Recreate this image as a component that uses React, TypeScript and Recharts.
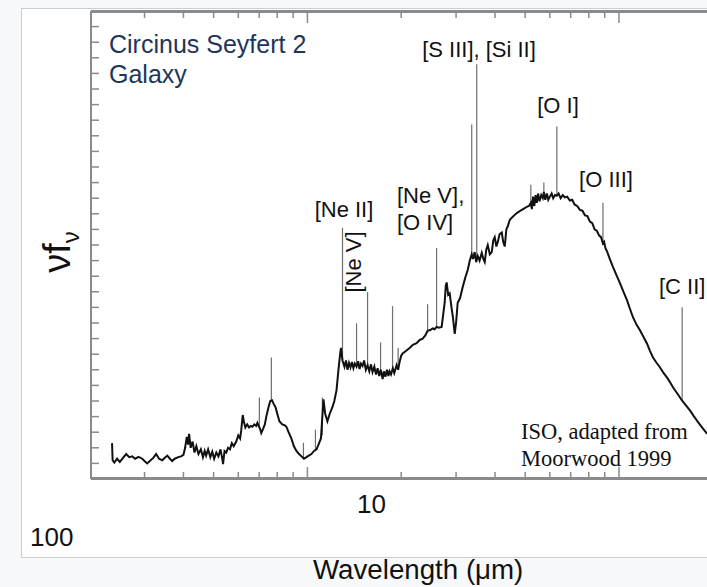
import { LineChart, Line, XAxis, YAxis, ReferenceLine } from 'recharts';

// ISO spectrum of the Circinus galaxy (arbitrary flux units)
const WAVE = [
  2.36, 2.37, 2.4, 2.45, 2.5, 2.56, 2.62, 2.68, 2.74, 2.8, 2.87, 2.95, 3.0, 3.06, 3.12, 3.2, 3.27, 3.34,
  3.42, 3.48, 3.55, 3.62, 3.68, 3.75, 3.85, 3.93, 4.0, 4.05, 4.1, 4.14, 4.17, 4.22, 4.28, 4.34, 4.4,
  4.47, 4.55, 4.62, 4.68, 4.73, 4.8, 4.88, 4.95, 5.02, 5.1, 5.18, 5.26, 5.34, 5.36, 5.42, 5.49, 5.56,
  5.64, 5.72, 5.8, 5.91, 6.0, 6.08, 6.13, 6.2, 6.25, 6.32, 6.41, 6.5, 6.58, 6.66, 6.75, 6.85, 6.91,
  7.05, 7.11, 7.2, 7.3, 7.38, 7.5, 7.6, 7.7, 7.8, 7.9, 8.0, 8.13, 8.3, 8.45, 8.56, 8.7, 8.88, 9.05,
  9.22, 9.4, 9.57, 9.75, 9.93, 10.1, 10.3, 10.5, 10.7, 10.9, 11.05, 11.26, 11.4, 11.59, 11.8, 12.03,
  12.2, 12.4, 12.55, 12.67, 12.77, 12.82, 12.96, 13.15, 13.3, 13.45, 13.6, 13.75, 13.9, 14.05, 14.2,
  14.38, 14.55, 14.7, 14.85, 15.03, 15.2, 15.4, 15.6, 15.8, 16.0, 16.18, 16.4, 16.6, 16.8, 17.0, 17.2,
  17.43, 17.6, 17.8, 18.0, 18.2, 18.35, 18.55, 18.8, 19.0, 19.33, 19.55, 19.76, 20.0, 20.21, 20.7,
  21.28, 21.8, 22.41, 22.9, 23.43, 23.9, 24.31, 24.8, 25.23, 25.6, 25.98, 26.4, 26.97, 27.3, 27.58,
  27.8, 27.99, 28.3, 28.62, 29.0, 29.3, 29.7, 30.0, 30.36, 30.9, 31.51, 32.1, 32.7, 33.2, 33.68, 34.0,
  34.43, 34.8, 35.21, 35.7, 36.27, 36.7, 37.08, 37.5, 37.92, 38.5, 39.05, 39.5, 39.93, 40.4, 40.83,
  41.4, 42.06, 42.5, 42.99, 43.5, 43.97, 44.6, 45.29, 46.1, 46.99, 47.9, 48.77, 49.7, 50.61, 51.4,
  52.13, 52.52, 53.0, 53.5, 54.0, 54.5, 55.0, 55.6, 56.3, 56.97, 57.4, 58.0, 58.7, 59.3, 60.01, 60.8,
  61.5, 62.3, 63.18, 64.0, 65.0, 66.0, 67.05, 68.2, 69.56, 70.8, 72.0, 73.4, 74.93, 76.3, 77.8, 79.2,
  80.68, 82.1, 83.5, 84.98, 86.4, 87.6, 88.84, 89.6, 90.5, 91.5, 93.5, 95.65, 98.0, 100.74, 103.4,
  106.1, 108.5, 110.9, 113.8, 116.8, 119.9, 123.0, 125.8, 128.6, 132.0, 135.5, 139.0, 142.7, 145.9,
  149.2, 154.3, 159.5, 164.3, 169.2, 173.6, 178.2, 185.0, 191.9,
];

const FLUX = [
  2.3, 1.2, 1.05, 1.3, 1.1, 1.35, 1.6, 1.4, 1.45, 1.3, 1.42, 1.3, 1.15, 1.0, 1.15, 1.35, 1.6, 1.3,
  1.2, 1.35, 1.5, 1.3, 1.15, 1.3, 1.4, 1.45, 1.55, 2.0, 2.7, 2.2, 2.9, 2.0, 2.4, 1.7, 2.1,
  1.6, 1.9, 1.4, 1.8, 1.5, 1.9, 1.4, 1.75, 1.3, 1.7, 1.45, 1.9, 1.2, 0.95, 1.8, 1.7, 2.0,
  1.9, 2.3, 2.1, 2.4, 2.8, 2.6, 3.1, 4.1, 3.7, 3.3, 3.5, 3.3, 3.4, 3.35, 3.5, 3.4, 3.6,
  3.2, 2.95, 3.2, 3.5, 4.0, 4.6, 5.0, 5.05, 4.8, 4.6, 4.2, 3.7, 3.5, 3.45, 3.35, 3.0, 2.6, 2.1,
  1.8, 1.6, 1.45, 1.3, 1.4, 1.5, 1.6, 1.8, 1.9, 2.3, 2.6, 5.1, 4.2, 3.7, 4.2, 4.6,
  5.0, 5.7, 6.8, 7.6, 8.2, 8.4, 7.6, 7.2, 7.6, 7.0, 7.45, 7.15, 7.5, 7.1, 7.4,
  7.2, 7.55, 7.05, 7.4, 7.25, 7.6, 7.0, 7.3, 6.9, 7.35, 6.85, 7.2, 6.7, 7.1, 6.6, 7.0,
  6.4, 6.9, 6.55, 7.0, 6.6, 6.9, 6.7, 7.1, 6.8, 7.3, 7.0, 7.5, 7.9, 8.05, 8.2,
  8.4, 8.6, 8.7, 8.9, 9.0, 9.2, 9.5, 9.55, 9.65, 9.6, 9.75, 9.7, 9.75, 10.6, 11.3,
  12.4, 12.6, 11.8, 11.9, 11.0, 10.4, 9.3, 10.0, 11.3, 11.6, 12.3, 12.9, 13.4, 14.0, 14.4, 14.1,
  14.55, 13.9, 14.3, 14.0, 14.5, 14.1, 13.9, 14.7, 15.0, 14.4, 14.55, 15.3, 15.5, 14.9, 15.2,
  15.7, 15.8, 15.2, 14.9, 16.0, 16.2, 16.6, 16.75, 16.9, 17.05, 17.15, 17.25, 17.35, 17.45, 17.5,
  17.7, 17.3, 18.1, 17.5, 18.2, 17.7, 18.3, 17.8, 18.2, 18.0, 18.4, 17.9, 18.3, 17.9, 18.1, 18.3,
  18.0, 18.2, 18.15, 18.3, 18.0, 18.2, 18.05, 18.1, 17.85, 17.9, 17.6, 17.5, 17.25, 17.2, 16.9, 16.85,
  16.5, 16.4, 16.0, 15.9, 15.6, 15.5, 15.1, 15.2, 14.8, 14.6, 14.1, 13.6, 13.1, 12.56, 12.0,
  11.46, 10.9, 10.37, 9.9, 9.53, 9.1, 8.69, 8.2, 7.79, 7.45, 7.15, 6.8, 6.5, 6.2,
  5.86, 5.45, 5.02, 4.7, 4.38, 4.05, 3.73, 3.3, 2.9,
];

// narrow emission lines: wavelength, continuum under the line, top of the line
const LINE_WAVE = [7.01, 7.66, 9.71, 10.61, 11.17, 12.96, 14.38, 15.6, 17.17, 18.76, 19.55, 24.31, 25.98, 33.68, 34.95, 52.13, 57.4, 63.18, 88.84, 159.5];
const LINE_BASE = [3.3, 5.0, 1.4, 1.85, 2.8, 7.6, 7.2, 7.3, 6.9, 7.0, 7.0, 9.5, 9.75, 14.4, 14.0, 17.7, 18.4, 18.15, 15.1, 5.02];
const LINE_PEAK = [5.22, 7.79, 2.32, 3.16, 5.22, 16.1, 9.98, 11.98, 8.76, 11.08, 8.4, 11.2, 14.81, 22.73, 26.59, 18.87, 19.0, 22.6, 17.71, 11.01];

const MINOR_TICKS = [3, 4, 5, 6, 7, 8, 9, 20, 30, 40, 50, 60, 70, 80, 90, 200];
const MAJOR_TICKS = [10, 100];
const Y_TICKS = Array.from({ length: 29 }, (_, i) => i + 1);

const data = WAVE.map((w, i) => ({ w, f: FLUX[i] }));

const W = 760;
const H = 587;
const X_DOMAIN: [number, number] = [2.02, 211];
const AXIS = '#8a8a8a';
const SANS = '"Liberation Sans", Arial, sans-serif';
const SERIF = '"Liberation Serif", "Times New Roman", serif';

// tick marks only, no tick labels
const NoLabel = () => <g />;

// axes get 1px of room (recharts skips 0-sized axes), ticks mirrored inward
function xAxis(id: string, orientation: 'top' | 'bottom', ticks: number[], size: number) {
  return (
    <XAxis
      key={id}
      xAxisId={id}
      dataKey="w"
      type="number"
      scale="log"
      domain={X_DOMAIN}
      allowDataOverflow
      orientation={orientation}
      ticks={ticks}
      interval={0}
      tick={NoLabel}
      mirror
      height={1}
      tickSize={size}
      axisLine={{ stroke: AXIS, strokeWidth: 2 }}
      tickLine={{ stroke: AXIS, strokeWidth: 1.5 }}
    />
  );
}

export default function App() {
  return (
    <div
      style={{
        position: 'fixed',
        left: 0,
        top: 0,
        width: 707,
        height: 587,
        overflow: 'hidden',
        background: '#f7f8fa',
      }}
    >
      <div
        style={{
          position: 'absolute',
          left: 21,
          top: 8,
          width: 760,
          height: 548,
          background: '#fff',
          border: '1px solid #cdcdcd',
        }}
      />
      <div style={{ position: 'absolute', left: 0, top: 0 }}>
        <LineChart width={W} height={H} data={data} margin={{ top: 11, right: 40, bottom: 108, left: 91 }}>
          {xAxis('b', 'bottom', MINOR_TICKS, 7)}
          {xAxis('t', 'top', MINOR_TICKS, 7)}
          {xAxis('bm', 'bottom', MAJOR_TICKS, 11)}
          {xAxis('tm', 'top', MAJOR_TICKS, 11)}
          <YAxis
            type="number"
            domain={[0, 30]}
            ticks={Y_TICKS}
            interval={0}
            tick={NoLabel}
            mirror
            width={1}
            tickSize={8}
            axisLine={{ stroke: AXIS, strokeWidth: 2 }}
            tickLine={{ stroke: AXIS, strokeWidth: 1.5 }}
          />
          {LINE_WAVE.map((w, i) => (
            <ReferenceLine
              key={w}
              xAxisId="b"
              segment={[
                { x: w, y: LINE_BASE[i] },
                { x: w, y: LINE_PEAK[i] },
              ]}
              stroke="#6e6e6e"
              strokeWidth={1.2}
            />
          ))}
          <Line
            xAxisId="b"
            type="linear"
            dataKey="f"
            stroke="#111"
            strokeWidth={2}
            dot={false}
            isAnimationActive={false}
          />
        </LineChart>
      </div>
      <svg style={{ position: 'absolute', left: 0, top: 0 }} width={707} height={587}>
        <g fontFamily={SANS} fill="#1d3659" fontSize={25}>
          <text x={109} y={53}>Circinus Seyfert 2</text>
          <text x={109} y={83}>Galaxy</text>
        </g>
        <g fontFamily={SANS} fill="#111" fontSize={22}>
          <text x={479} y={57} textAnchor="middle">[S III], [Si II]</text>
          <text x={558} y={113} textAnchor="middle">[O I]</text>
          <text x={606} y={187} textAnchor="middle">[O III]</text>
          <text x={397} y={203}>[Ne V],</text>
          <text x={397} y={230}>[O IV]</text>
          <text x={344} y={217} textAnchor="middle">[Ne II]</text>
          <text x={361} y={262} textAnchor="middle" transform="rotate(-90 361 262)">[Ne V]</text>
          <text x={659} y={294}>[C II]</text>
        </g>
        <g fontFamily={SERIF} fill="#111" fontSize={22.5}>
          <text x={521} y={439}>ISO, adapted from</text>
          <text x={521} y={466}>Moorwood 1999</text>
        </g>
        <g fontFamily={SANS} fill="#111">
          <text x={357} y={513} fontSize={26}>10</text>
          <text x={30} y={546} fontSize={26}>100</text>
          <text x={313} y={579} fontSize={27.7}>Wavelength (μm)</text>
          <text x={70} y={252} fontSize={38} textAnchor="middle" transform="rotate(-90 70 252)">
            νf<tspan fontSize={24} dy={9}>ν</tspan>
          </text>
        </g>
      </svg>
    </div>
  );
}
